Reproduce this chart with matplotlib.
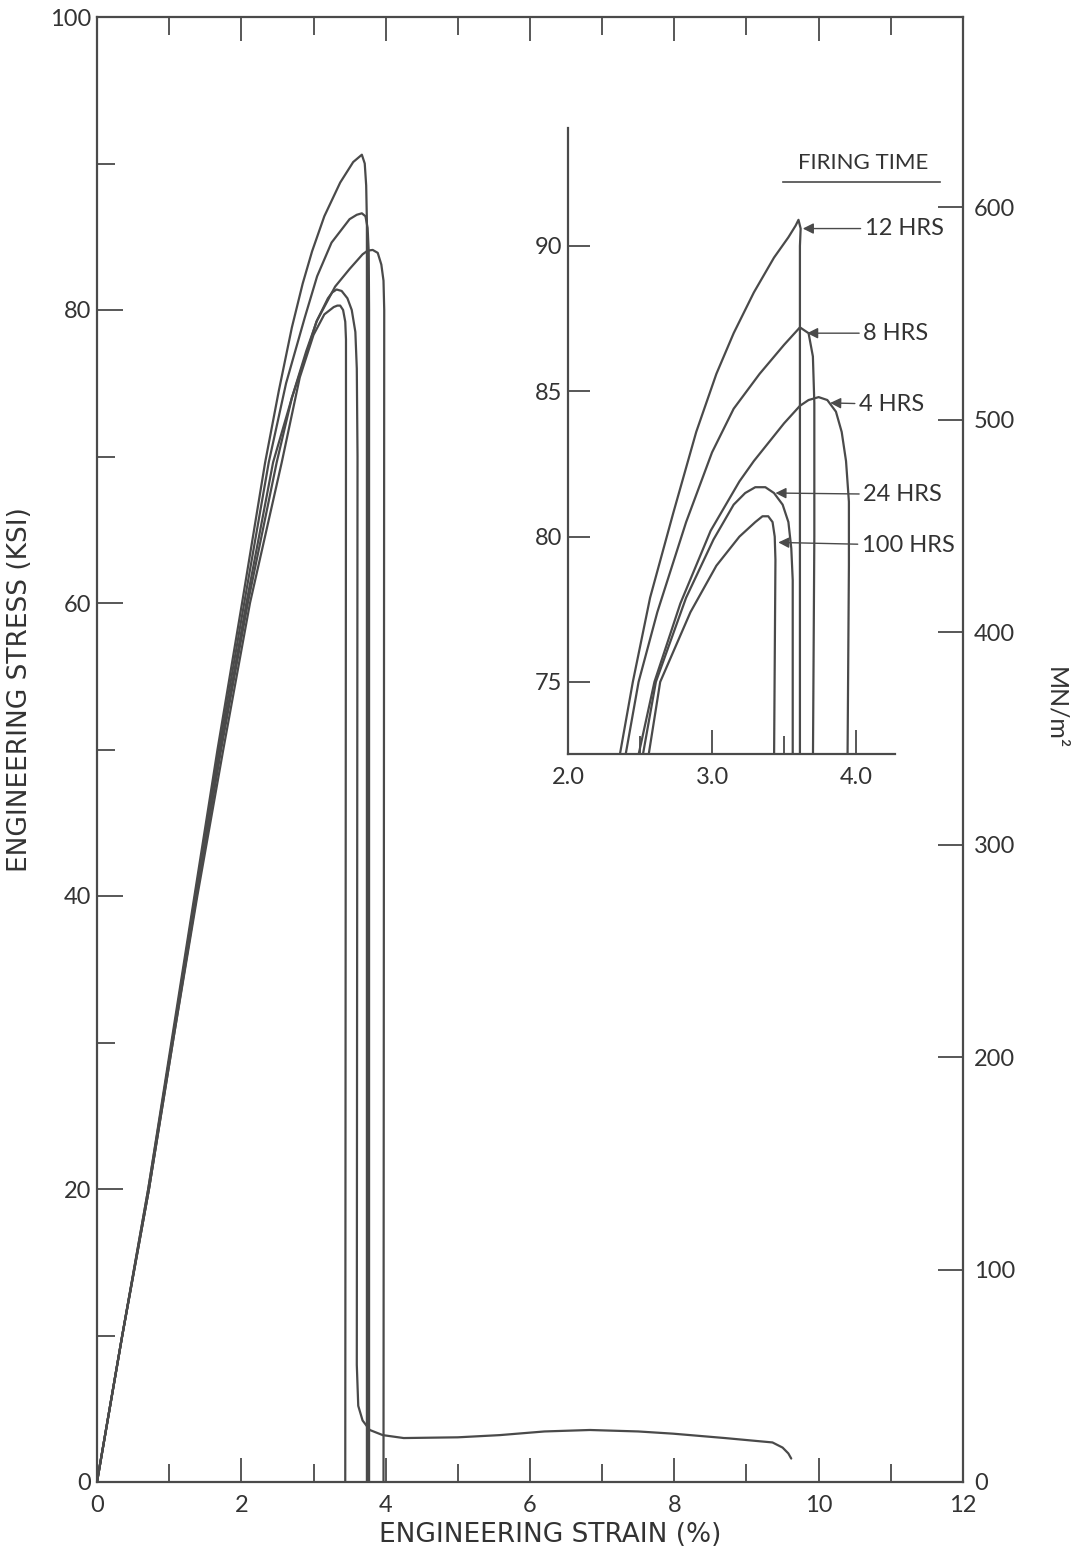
import matplotlib
matplotlib.use("Agg")
import matplotlib.pyplot as plt
from matplotlib.lines import Line2D

FONT = ["Lato", "DejaVu Sans"]
WIDE_FONT = ["DejaVu Sans"]
plt.rcParams["font.family"] = FONT
plt.rcParams["font.weight"] = "normal"

INK = "#333333"
LINE = "#4a4a4a"
KSI_TO_MN_M2 = 6.895

# ---- full-range curves: engineering strain (%) vs engineering stress (ksi) ----
strain_12h = [0, 0.35, 0.71, 1.03, 1.35, 1.67, 2.01, 2.33, 2.52, 2.70, 2.85, 2.98,
              3.15, 3.37, 3.55, 3.67, 3.71, 3.73, 3.74, 3.74]
stress_12h = [0, 10, 20, 30, 40, 50, 60, 69.6, 74.5, 78.8, 81.8, 84.0,
              86.4, 88.7, 90.1, 90.6, 90.0, 88.5, 86, 0]

strain_8h = [0, 0.35, 0.71, 1.04, 1.36, 1.69, 2.04, 2.38, 2.62, 2.88, 3.05, 3.25,
             3.50, 3.60, 3.67, 3.72, 3.75, 3.765, 3.77, 3.77]
stress_8h = [0, 10, 20, 30, 40, 50, 60, 69.6, 75, 79.5, 82.3, 84.6,
             86.2, 86.5, 86.6, 86.4, 85.6, 84, 80, 0]

strain_4h = [0, 0.35, 0.72, 1.04, 1.37, 1.71, 2.07, 2.44, 2.70, 2.90, 3.04, 3.30,
             3.50, 3.68, 3.75, 3.82, 3.89, 3.94, 3.97, 3.98, 3.97]
stress_4h = [0, 10, 20, 30, 40, 50, 60, 69.6, 74, 77, 79.2, 81.6,
             82.8, 83.8, 84.05, 84.1, 83.9, 83.1, 82.0, 80, 0]

strain_24h = [0, 0.35, 0.72, 1.05, 1.38, 1.72, 2.09, 2.49, 2.70, 2.90, 3.05, 3.20,
              3.26, 3.32, 3.39, 3.47, 3.53, 3.58, 3.60, 3.61, 3.60, 3.62, 3.68,
              3.78, 3.96, 4.25, 5.0, 5.58, 6.2, 6.83, 7.5, 7.98, 8.7, 9.36, 9.50,
              9.58, 9.62]
stress_24h = [0, 10, 20, 30, 40, 50, 60, 69.6, 74, 77.2, 79.3, 80.8,
              81.2, 81.4, 81.3, 80.8, 80.0, 78.5, 76, 70, 8, 5.2, 4.2,
              3.55, 3.2, 3.0, 3.05, 3.2, 3.45, 3.55, 3.45, 3.3, 3.0, 2.7, 2.35,
              1.95, 1.6]

strain_100h = [0, 0.35, 0.72, 1.05, 1.39, 1.75, 2.12, 2.56, 2.81, 3.00, 3.15, 3.28,
               3.33, 3.37, 3.41, 3.44, 3.45, 3.45, 3.44]
stress_100h = [0, 10, 20, 30, 40, 50, 60, 69.6, 75.4, 78.3, 79.7, 80.2,
               80.3, 80.3, 80.0, 79.2, 78, 70, 0]

# ---- enlarged view near maximum load ----
zoom_strain_12h = [2.36, 2.45, 2.57, 2.73, 2.89, 3.03, 3.15, 3.29, 3.43, 3.53, 3.58, 3.60, 3.615, 3.61, 3.61]
zoom_stress_12h = [72.5, 75.0, 77.9, 80.8, 83.6, 85.6, 87.0, 88.4, 89.6, 90.3, 90.7, 90.9, 90.6, 90.0, 72.0]

zoom_strain_8h = [2.40, 2.49, 2.62, 2.82, 3.00, 3.15, 3.33, 3.50, 3.61, 3.67, 3.70, 3.71, 3.71, 3.70]
zoom_stress_8h = [72.5, 75.0, 77.4, 80.5, 82.9, 84.4, 85.6, 86.6, 87.2, 87.0, 86.2, 84.6, 80.0, 72.0]

zoom_strain_4h = [2.49, 2.60, 2.78, 2.99, 3.19, 3.29, 3.50, 3.61, 3.67, 3.74, 3.80, 3.86, 3.90,
                  3.93, 3.95, 3.95, 3.94]
zoom_stress_4h = [72.5, 75.0, 77.7, 80.2, 81.9, 82.6, 83.9, 84.5, 84.7, 84.8, 84.7, 84.3, 83.6,
                  82.6, 81.2, 79.0, 72.0]

zoom_strain_24h = [2.52, 2.61, 2.82, 3.01, 3.15, 3.23, 3.30, 3.37, 3.43, 3.49, 3.53, 3.55, 3.56, 3.56]
zoom_stress_24h = [72.5, 75.0, 77.9, 79.9, 81.1, 81.5, 81.7, 81.7, 81.5, 81.1, 80.5, 79.6, 78.5, 72.0]

zoom_strain_100h = [2.56, 2.64, 2.85, 3.03, 3.19, 3.30, 3.35, 3.39, 3.42, 3.435, 3.44, 3.43]
zoom_stress_100h = [72.5, 75.0, 77.4, 79.0, 80.0, 80.5, 80.7, 80.7, 80.5, 80.0, 79.2, 72.0]

firing_labels = ["12 HRS", "8 HRS", "4 HRS", "24 HRS", "100 HRS"]

main_x_ticks = [0, 2, 4, 6, 8, 10, 12]
main_y_ticks = [0, 20, 40, 60, 80, 100]
mn_ticks = [0, 100, 200, 300, 400, 500, 600]
zoom_x_ticks = [2.0, 3.0, 4.0]
zoom_x_labels = ["2.0", "3.0", "4.0"]
zoom_y_ticks = [75, 80, 85, 90]

# label layout in the enlarged view: (text x, text y, arrow tip x, arrow tip y)
label_layout = [
    (4.06, 90.6, 3.63, 90.6),
    (4.05, 87.0, 3.66, 87.0),
    (4.02, 84.55, 3.82, 84.6),
    (4.05, 81.45, 3.44, 81.5),
    (4.04, 79.7, 3.46, 79.8),
]

W, H = 1077, 1556
fig = plt.figure(figsize=(W / 100, H / 100), dpi=100)
fig.patch.set_facecolor("white")

# ---------------- main axes ----------------
ax = fig.add_axes([97 / W, 1 - 1482 / H, (963 - 97) / W, (1482 - 17) / H])
curve_kw = dict(color=LINE, lw=1.6, solid_joinstyle="round", solid_capstyle="round")
for xs, ys in [(strain_12h, stress_12h), (strain_8h, stress_8h), (strain_4h, stress_4h),
               (strain_24h, stress_24h), (strain_100h, stress_100h)]:
    ax.plot(xs, ys, **curve_kw)

ax.set_xlim(0, 12)
ax.set_ylim(0, 100)
ax.set_xticks(main_x_ticks)
ax.set_xticks(range(1, 12, 2), minor=True)
ax.set_yticks(main_y_ticks)
ax.set_yticks(range(10, 100, 20), minor=True)
ax.set_xticklabels([str(v) for v in main_x_ticks])
ax.set_yticklabels([str(v) for v in main_y_ticks])
ax.tick_params(which="both", direction="in", top=True, right=False,
               color=LINE, width=1.3, labelcolor=INK, labelsize=17)
ax.tick_params(axis="x", which="major", length=17, pad=9)
ax.tick_params(axis="x", which="minor", length=13)
ax.tick_params(axis="y", which="major", length=19, pad=4)
ax.tick_params(axis="y", which="minor", length=13)
for s in ax.spines.values():
    s.set_color(LINE)
    s.set_linewidth(1.6)

ax.set_xlabel("ENGINEERING STRAIN (%)", fontsize=19, color=INK, family=WIDE_FONT)
ax.xaxis.set_label_coords((550 - 97) / 866, -(1522 - 1482) / 1465)
ax.set_ylabel("ENGINEERING STRESS (KSI)", fontsize=19, color=INK, family=WIDE_FONT)
ax.yaxis.set_label_coords(-(97 - 33) / 866, (1482 - 690) / 1465)

# secondary stress scale in MN/m^2
ax2 = ax.twinx()
ax2.set_ylim(0, 100 * KSI_TO_MN_M2)
ax2.set_yticks(mn_ticks)
ax2.set_yticklabels([str(v) for v in mn_ticks])
ax2.tick_params(direction="in", length=18, width=1.3, color=LINE,
                labelcolor=INK, labelsize=17, pad=8)
ax2.yaxis.get_major_ticks()[0].tick2line.set_visible(False)
for s in ax2.spines.values():
    s.set_visible(False)
fig.text(1056 / W, 1 - 708 / H, "MN/m²", rotation=270, ha="center", va="center",
         fontsize=18, color=INK)

# ---------------- enlarged view ----------------
ins = fig.add_axes([568 / W, 1 - 754 / H, (895 - 568) / W, (754 - 128) / H])
ins.set_facecolor("none")
for xs, ys in [(zoom_strain_12h, zoom_stress_12h), (zoom_strain_8h, zoom_stress_8h),
               (zoom_strain_4h, zoom_stress_4h), (zoom_strain_24h, zoom_stress_24h),
               (zoom_strain_100h, zoom_stress_100h)]:
    ins.plot(xs, ys, **curve_kw)
ins.set_xlim(2.0, 4.27)
ins.set_ylim(72.52, 94.06)
ins.spines["top"].set_visible(False)
ins.spines["right"].set_visible(False)
for side in ("left", "bottom"):
    ins.spines[side].set_color(LINE)
    ins.spines[side].set_linewidth(1.6)
ins.set_xticks(zoom_x_ticks)
ins.set_xticklabels(zoom_x_labels)
ins.set_xticks([2.5, 3.5], minor=True)
ins.set_yticks(zoom_y_ticks)
ins.set_yticklabels([str(v) for v in zoom_y_ticks])
ins.tick_params(which="both", direction="in", color=LINE, width=1.3,
                labelcolor=INK, labelsize=17)
ins.tick_params(axis="x", which="major", length=17, pad=9)
ins.tick_params(axis="x", which="minor", length=13)
ins.tick_params(axis="y", which="major", length=16, pad=4)

for label, (tx, ty, px, py) in zip(firing_labels, label_layout):
    ins.annotate(label, xy=(px, py), xytext=(tx, ty), ha="left", va="center",
                 fontsize=17, color=INK, annotation_clip=False,
                 arrowprops=dict(arrowstyle="-|>", color=LINE, lw=1.0,
                                 mutation_scale=16, shrinkA=1, shrinkB=0))

fig.text(863 / W, 1 - 163 / H, "FIRING TIME", ha="center", va="center",
         fontsize=16, color=INK)
fig.add_artist(Line2D([783 / W, 940 / W], [1 - 182 / H, 1 - 182 / H],
                      transform=fig.transFigure, color=LINE, lw=1.2))

fig.savefig("out.png", dpi=100, facecolor="white")
